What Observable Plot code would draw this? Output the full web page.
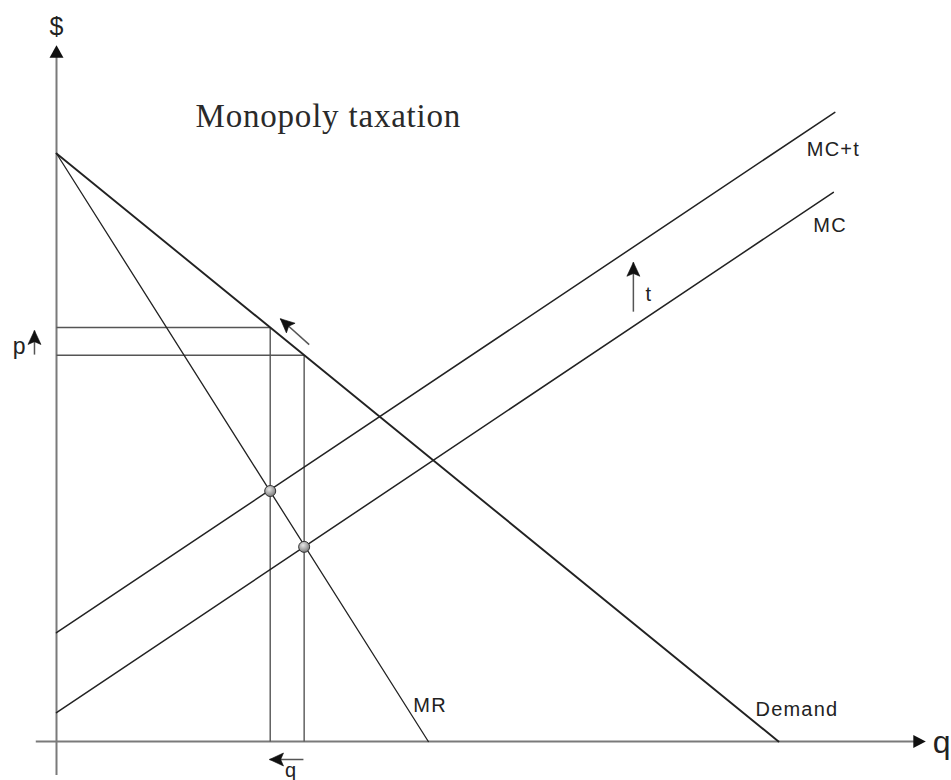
<!DOCTYPE html>
<html>
<head>
<meta charset="utf-8">
<script src="https://cdn.jsdelivr.net/npm/d3@7"></script>
<script src="https://cdn.jsdelivr.net/npm/@observablehq/plot@0.6"></script>
<style>
  html, body { margin: 0; padding: 0; background: #fff; }
  #chart svg { display: block; }
</style>
</head>
<body>
<div id="chart"></div>
<script>
// ---- Data (arbitrary units) ----
const qAxisExtent = [-2.8, 120.4];   // horizontal axis: start, arrow tip
const pAxisExtent = [-5.8, 118.4];   // vertical axis: start, arrow tip

const demandQ = [0, 100];
const demandP = [100, 0];
const mrQ = [0, 51.5];
const mrP = [100, 0];
const mcQ = [0, 107.6];
const mcP = [4.9, 93.4];
const mctQ = [0, 107.8];
const mctP = [18.5, 107.0];

// monopoly optimum: [with tax, without tax]
const eqQ = [29.6, 34.3];
const eqPrice = [70.4, 65.7];
const eqMR = [42.6, 33.1];

// small annotation arrows (from -> to)
const arrowFromQ = [-3.05, 79.9, 35.0, 34.2];
const arrowFromP = [65.8, 73.1, 67.5, -3.06];
const arrowToQ = [-3.05, 79.9, 31.0, 29.5];
const arrowToP = [69.9, 81.5, 71.9, -3.06];

const curveLabels = ["Demand", "MR", "MC", "MC+t"];
const axisLabels = ["q", "$"];
const titleText = "Monopoly taxation";

// ---- Scales ----
const xScale = {domain: [0, 100], range: [56, 778]};
const yScale = {domain: [0, 100], range: [741, 153]};
const X = Plot.scale({x: xScale});
const Y = Plot.scale({y: yScale});

const pts = (Q, P) => Q.map((q, i) => ({q, p: P[i]}));

// arrowhead symbols, tip at origin, pointing up
const solidHead = (L, w) => ({draw(ctx) { ctx.moveTo(0, 0); ctx.lineTo(w, L); ctx.lineTo(-w, L); ctx.closePath(); }});
const barbHead = (L, w, n) => ({draw(ctx) { ctx.moveTo(0, 0); ctx.lineTo(w, L); ctx.lineTo(0, n * L); ctx.lineTo(-w, L); ctx.closePath(); }});

const arrows = arrowFromQ.map((q, i) => {
  const dxp = X.apply(arrowToQ[i]) - X.apply(q);
  const dyp = Y.apply(arrowToP[i]) - Y.apply(arrowFromP[i]);
  return {q1: q, p1: arrowFromP[i], q2: arrowToQ[i], p2: arrowToP[i],
          angle: Math.atan2(dxp, -dyp) * 180 / Math.PI};
});

const sans = "'Liberation Sans', Arial, Helvetica, sans-serif";
const serif = "'Liberation Serif', 'Times New Roman', serif";
const curveColor = "#222";
const guideColor = "#555";
const axisColor = "#7a7a7a";

const eq = eqQ.map((q, i) => ({q, p: eqPrice[i], mr: eqMR[i]}));

const xTipBase = X.invert(X.apply(qAxisExtent[1]) - 10);
const yTipBase = Y.invert(Y.apply(pAxisExtent[1]) + 10);

const chart = Plot.plot({
  width: 951,
  height: 780,
  margin: 0,
  x: {...xScale, axis: null},
  y: {...yScale, axis: null},
  style: {background: "#fff", overflow: "visible"},
  marks: [
    // axes
    Plot.ruleY([0], {x1: qAxisExtent[0], x2: xTipBase, stroke: axisColor, strokeWidth: 2}),
    Plot.ruleX([0], {y1: pAxisExtent[0], y2: yTipBase, stroke: axisColor, strokeWidth: 2}),
    Plot.dot([{q: qAxisExtent[1], p: 0}], {x: "q", y: "p", r: 1, symbol: solidHead(12.5, 6.5), rotate: 90, fill: "#111", stroke: "none"}),
    Plot.dot([{q: 0, p: pAxisExtent[1]}], {x: "q", y: "p", r: 1, symbol: solidHead(12.5, 7), rotate: 0, fill: "#111", stroke: "none"}),

    // guide lines to price and quantity
    Plot.link(eq, {x1: 0, x2: "q", y1: "p", y2: "p", stroke: guideColor, strokeWidth: 1.4}),
    Plot.link(eq, {x1: "q", x2: "q", y1: 0, y2: "p", stroke: guideColor, strokeWidth: 1.4}),

    // curves
    Plot.line(pts(mcQ, mcP), {x: "q", y: "p", stroke: curveColor, strokeWidth: 1.5}),
    Plot.line(pts(mctQ, mctP), {x: "q", y: "p", stroke: curveColor, strokeWidth: 1.5}),
    Plot.line(pts(mrQ, mrP), {x: "q", y: "p", stroke: curveColor, strokeWidth: 1.3}),
    Plot.line(pts(demandQ, demandP), {x: "q", y: "p", stroke: curveColor, strokeWidth: 1.9}),

    // equilibrium points MR = MC
    Plot.dot(eq, {x: "q", y: "mr", r: 5.5, fill: "url(#ballGrad)", stroke: "#333", strokeWidth: 1}),

    // annotation arrows
    Plot.link(arrows, {x1: "q1", y1: "p1", x2: "q2", y2: "p2", stroke: "#555", strokeWidth: 1.5}),
    Plot.dot(arrows, {x: "q2", y: "p2", r: 1, symbol: barbHead(14, 6.5, 0.8), rotate: "angle", fill: "#111", stroke: "#111", strokeWidth: 0.6}),

    // labels of curves
    Plot.text([{q: demandQ[1], p: demandP[1]}], {x: "q", y: "p", text: () => curveLabels[0], dx: -23, dy: -32, textAnchor: "start", fontSize: 20, fontFamily: sans, fill: "#222"}),
    Plot.text([{q: mrQ[1], p: mrP[1]}], {x: "q", y: "p", text: () => curveLabels[1], dx: -15, dy: -36, textAnchor: "start", fontSize: 20, fontFamily: sans, fill: "#222"}),
    Plot.text([{q: mcQ[1], p: mcP[1]}], {x: "q", y: "p", text: () => curveLabels[2], dx: -20, dy: 33, textAnchor: "start", fontSize: 20, fontFamily: sans, fill: "#222"}),
    Plot.text([{q: mctQ[1], p: mctP[1]}], {x: "q", y: "p", text: () => curveLabels[3], dx: -28, dy: 37, textAnchor: "start", fontSize: 20, fontFamily: sans, fill: "#222"}),

    // axis labels
    Plot.text([{q: qAxisExtent[1], p: 0}], {x: "q", y: "p", text: () => axisLabels[0], dx: 7, dy: 1, textAnchor: "start", fontSize: 32, fontFamily: sans, fill: "#222"}),
    Plot.text([{q: 0, p: pAxisExtent[1]}], {x: "q", y: "p", text: () => axisLabels[1], dx: 0, dy: -18, textAnchor: "middle", fontSize: 25, fontFamily: sans, fill: "#222"}),

    // labels of the shift arrows
    Plot.text([arrows[0]], {x: "q1", y: "p1", text: () => "p", dx: -9, dy: -8, textAnchor: "end", fontSize: 23, fontFamily: sans, fill: "#222"}),
    Plot.text([arrows[1]], {x: "q1", y: "p1", text: () => "t", dx: 12, dy: -17, textAnchor: "start", fontSize: 20, fontFamily: sans, fill: "#222"}),
    Plot.text([arrows[3]], {x: "q2", y: "p2", text: () => "q", dx: 21, dy: 11, textAnchor: "middle", fontSize: 20, fontFamily: sans, fill: "#222"}),

    // title
    Plot.text([titleText], {frameAnchor: "top-left", dx: 195, dy: 103, textAnchor: "start", fontSize: 33, fontFamily: serif, fill: "#2a2a2a"})
  ]
});

// gradient for the equilibrium balls, letter spacing
const svg = d3.select(chart);
const grad = svg.insert("defs", ":first-child").append("radialGradient")
  .attr("id", "ballGrad").attr("cx", "40%").attr("cy", "35%").attr("r", "65%");
grad.append("stop").attr("offset", "0%").attr("stop-color", "#e6e6e6");
grad.append("stop").attr("offset", "100%").attr("stop-color", "#7d7d7d");
svg.selectAll("text").each(function() {
  const t = d3.select(this).text();
  if (curveLabels.includes(t)) d3.select(this).attr("letter-spacing", "1.2px");
  if (t === titleText) d3.select(this).attr("letter-spacing", "0.8px");
});

document.getElementById("chart").appendChild(chart);
</script>
</body>
</html>
